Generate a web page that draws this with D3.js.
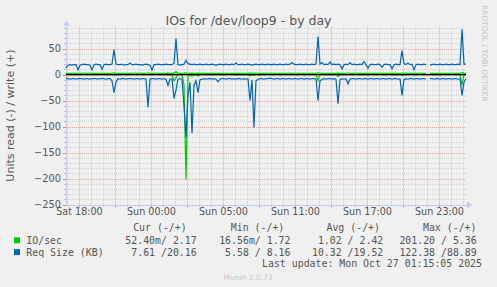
<!DOCTYPE html>
<html><head><meta charset="utf-8">
<script src="https://cdn.jsdelivr.net/npm/d3@7"></script>
<style>
html,body{margin:0;padding:0;background:#f0f0f0;}
svg{display:block;}
text{font-family:"DejaVu Sans",sans-serif;fill:#555;}
.mono{font-family:"DejaVu Sans Mono",monospace;white-space:pre;}
</style></head><body>
<svg id="c" width="497" height="287"></svg>
<script>
// ---------- data ----------
const sampleStartUTC = "2025-10-25T14:55:05Z";
const stepMinutes = 10;
const lastUpdateUTC = "2025-10-27T00:15:05Z";

// Req Size (KB) write (+)
const reqWrite = [13,18,19,18,19,19,9,18,19,20,19,19,18,9,19,20,19,19,10,19,
20,19,19,20,48,20,19,19,20,18,19,19,22,19,19,20,19,19,18,19,
20,19,18,9,19,19,20,19,19,19,20,19,19,19,22,69,19,18,19,20,
27,21,20,19,20,19,19,20,19,19,20,19,19,20,19,18,19,20,19,19,
20,19,19,20,19,22,19,19,20,19,19,20,19,18,19,20,19,19,20,19,
19,20,19,19,20,19,19,20,19,19,20,19,20,23,20,19,19,20,19,19,
20,19,19,20,19,20,73,20,23,19,20,19,24,19,20,19,20,19,11,19,
20,19,23,19,20,19,19,20,19,25,19,12,19,20,19,19,20,19,14,19,
20,19,19,11,19,20,19,19,46,21,19,22,19,20,9,19,20,19,19,20,
19,null,18,19,20,19,19,20,19,19,20,19,19,20,19,19,20,19,87,20,20];
// Req Size (KB) read (-) magnitude
const reqRead = [8,8,9,8,8,9,8,8,8,9,8,8,9,8,8,8,9,8,8,8,
9,8,8,12,35,14,8,9,8,8,9,8,8,8,9,8,8,9,8,8,
9,63,9,8,8,9,8,8,9,8,9,21,9,8,46,30,9,8,9,60,
121,40,15,113,20,12,35,10,9,8,9,8,8,9,8,9,14,9,8,8,
9,8,8,9,8,9,8,8,9,8,9,8,50,10,102,12,9,8,8,9,
8,8,7,8,9,8,8,9,8,8,9,8,8,9,8,8,9,8,8,9,
8,8,9,8,8,9,50,12,9,8,9,8,8,9,8,9,56,10,8,9,
8,18,9,8,8,9,8,8,9,8,8,9,8,8,9,8,8,9,8,8,
9,8,8,9,8,8,9,8,40,10,8,9,8,8,9,8,8,9,8,8,
9,null,8,8,9,8,8,9,8,8,9,8,8,9,8,8,9,8,40,15,8];
// IO/sec write (+)
const ioWrite = [2.2,2.4,2.3,2.4,2.5,2.4,2.2,2.4,2.3,2.4,2.5,2.4,2.3,2.2,2.4,2.5,2.4,2.3,2.2,2.4,
2.5,2.4,2.3,2.4,3.1,2.4,2.3,2.4,2.5,2.4,2.3,2.4,2.5,2.4,2.3,2.4,2.5,2.4,2.3,2.4,
2.5,2.6,2.4,2.2,2.4,2.5,2.4,2.3,2.4,2.5,2.4,2.6,2.4,2.3,3.2,5.36,2.4,2.3,2.4,2.6,
3.0,2.5,2.4,2.7,2.4,2.3,2.6,2.4,2.3,2.4,2.5,2.4,2.3,2.4,2.5,2.4,2.3,2.4,2.5,2.4,
2.3,2.4,2.5,2.4,2.3,2.4,2.5,2.4,2.3,2.4,2.5,2.4,2.8,2.4,2.7,2.4,2.3,2.4,2.5,2.4,
2.3,2.4,2.5,2.4,2.3,2.4,2.5,2.4,2.3,2.4,2.5,2.4,2.3,2.4,2.5,2.4,2.3,2.4,2.5,2.4,
2.3,2.4,2.5,2.4,2.3,2.4,3.4,2.4,2.3,2.4,2.5,2.4,2.3,2.4,2.5,2.4,2.8,2.4,2.3,2.4,
2.5,2.6,2.3,2.4,2.5,2.4,2.3,2.4,2.5,2.4,2.3,2.4,2.5,2.4,2.3,2.4,2.5,2.4,2.3,2.4,
2.5,2.4,2.3,2.4,2.5,2.4,2.3,2.4,2.9,2.4,2.3,2.4,2.5,2.4,2.3,2.4,2.5,2.4,2.3,2.4,
2.5,null,2.3,2.4,2.5,2.4,2.3,2.4,2.5,2.4,2.3,2.4,2.5,2.4,2.3,2.4,2.5,2.4,4.1,2.3,2.17];
// IO/sec read (-) magnitude
const ioRead = [0.05,0.04,0.05,0.06,0.05,0.04,0.05,0.05,0.04,0.05,0.06,0.05,0.04,0.05,0.05,0.04,0.05,0.06,0.05,0.04,
0.05,0.05,0.04,0.3,1.2,0.3,0.05,0.04,0.05,0.06,0.05,0.04,0.05,0.05,0.04,0.05,0.06,0.05,0.04,0.05,
0.05,0.8,0.05,0.04,0.05,0.06,0.05,0.04,0.05,0.05,0.04,0.9,0.05,0.06,12,6,0.05,0.04,0.05,20,
201.2,3,0.5,3.5,0.5,0.3,3,0.2,0.05,0.04,0.05,0.06,0.05,0.04,0.05,0.05,0.4,0.05,0.06,0.05,
0.04,0.05,0.05,0.04,0.05,0.06,0.05,0.04,0.05,0.05,0.04,0.05,3,0.1,2,0.05,0.04,0.05,0.05,0.04,
0.05,0.06,0.05,0.04,0.05,0.05,0.04,0.05,0.06,0.05,0.04,0.05,0.05,0.04,0.05,0.06,0.05,0.04,0.05,0.05,
0.04,0.05,0.06,0.05,0.04,0.05,12,0.2,0.05,0.04,0.05,0.06,0.05,0.04,0.05,0.05,4,0.1,0.05,0.04,
0.05,0.3,0.05,0.04,0.05,0.06,0.05,0.04,0.05,0.05,0.04,0.05,0.06,0.05,0.04,0.05,0.05,0.04,0.05,0.06,
0.05,0.04,0.05,0.05,0.04,0.05,0.06,0.05,1.5,0.1,0.05,0.04,0.05,0.05,0.04,0.05,0.06,0.05,0.04,0.05,
0.05,null,0.05,0.04,0.05,0.06,0.05,0.04,0.05,0.05,0.04,0.05,0.06,0.05,0.04,0.05,0.05,0.04,20,0.5,0.0524];

const yTicks = [50,0,-50,-100,-150,-200,-250];
const xTickTimesUTC = ["2025-10-25T16:00:00Z","2025-10-25T22:00:00Z","2025-10-26T04:00:00Z","2025-10-26T10:00:00Z","2025-10-26T16:00:00Z","2025-10-26T22:00:00Z"];
const xTickLabels = ["Sat 18:00","Sun 00:00","Sun 05:00","Sun 11:00","Sun 17:00","Sun 23:00"];

const title = "IOs for /dev/loop9 - by day";
const yLabel = "Units read (-) / write (+)";
const legendHeader = ["Cur (-/+)","Min (-/+)","Avg (-/+)","Max (-/+)"];
const seriesNames = ["IO/sec","Req Size (KB)"];
const seriesColors = ["#00cc00","#0066b3"];
const legendRows = [
  ["52.40m/ 2.17","16.56m/ 1.72"," 1.02 / 2.42","201.20 / 5.36"],
  [" 7.61 /20.16"," 5.58 / 8.16","10.32 /19.52","122.38 /88.89"]
];
const lastUpdateText = "Last update: Mon Oct 27 01:15:05 2025";
const credit = "Munin 2.0.73";
const rrdCredit = "RRDTOOL / TOBI OETIKER";

// ---------- drawing ----------
const svg = d3.select("#c");
const L = 66, R = 466, T = 26.7, B = 204.5;
const t0 = new Date(sampleStartUTC).getTime();
const tEnd = t0 + (reqWrite.length - 1) * stepMinutes * 60000;
const x = d3.scaleUtc().domain([t0, tEnd]).range([L, R]);
const y = d3.scaleLinear().domain([-250, 92]).range([B, T]);

const timeAt = i => new Date(t0 + i * stepMinutes * 60000);

// minor grid
const g = svg.append("g");
const hours = d3.utcHour.range(new Date(t0), new Date(tEnd));
hours.forEach(h => {
  const major = h.getUTCHours() % 3 === 1;
  const xx = Math.round(x(h)) + 0.5;
  g.append("line").attr("x1", xx).attr("x2", xx).attr("y1", T).attr("y2", B)
    .attr("stroke", major ? "#eaa6a6" : "#d2d2d2").attr("stroke-dasharray", "1,1");
  g.append("line").attr("x1", xx).attr("x2", xx).attr("y1", B).attr("y2", B + (major ? 3 : 2))
    .attr("stroke", major ? "#e87a7a" : "#bbbbbb");
});
d3.range(-250, 92, 10).forEach(v => {
  const major = v % 50 === 0;
  const yy = Math.round(y(v)) + 0.5;
  g.append("line").attr("x1", L).attr("x2", R).attr("y1", yy).attr("y2", yy)
    .attr("stroke", major ? "#eaa6a6" : "#d2d2d2").attr("stroke-dasharray", "1,1");
  g.append("line").attr("x1", L - (major ? 3 : 2)).attr("x2", L).attr("y1", yy).attr("y2", yy)
    .attr("stroke", major ? "#e87a7a" : "#bbbbbb");
});

// axes lines + arrows
const axc = "#c4cbf2";
svg.append("line").attr("x1", L + 0.5).attr("x2", L + 0.5).attr("y1", B).attr("y2", T - 2).attr("stroke", axc);
svg.append("line").attr("x1", L).attr("x2", R + 2).attr("y1", Math.round(B) + 0.5).attr("y2", Math.round(B) + 0.5).attr("stroke", axc);
svg.append("path").attr("d", `M${L - 3},${T - 1}L${L + 4},${T - 1}L${L + 0.5},${T - 6}Z`).attr("fill", axc);
svg.append("path").attr("d", `M${R + 1},${B - 3}L${R + 1},${B + 4}L${R + 6},${B + 0.5}Z`).attr("fill", axc);

// series lines
const line = d3.line().defined(d => d.v != null).x(d => x(d.t)).y(d => y(d.v));
function mk(arr, sign) { return arr.map((v, i) => ({ t: timeAt(i), v: v == null ? null : sign * v })); }
const lg = svg.append("g").attr("fill", "none").attr("stroke-width", 1.2);
lg.append("path").attr("d", line(mk(ioRead, -1))).attr("stroke", seriesColors[0]);
lg.append("path").attr("d", line(mk(ioWrite, 1))).attr("stroke", seriesColors[0]);
svg.append("line").attr("x1", L).attr("x2", R).attr("y1", y(0)).attr("y2", y(0)).attr("stroke", "#000").attr("stroke-width", 1.3);
lg.append("path").attr("d", line(mk(reqRead, -1))).attr("stroke", seriesColors[1]);
lg.append("path").attr("d", line(mk(reqWrite, 1))).attr("stroke", seriesColors[1]);

// axis labels
const xAxis = d3.axisBottom(x).tickValues(xTickTimesUTC.map(s => new Date(s)))
  .tickFormat((d, i) => xTickLabels[i]).tickSize(0).tickPadding(0);
const xa = svg.append("g").attr("transform", `translate(0,${B + 4})`).call(xAxis);
xa.select(".domain").remove();
xa.selectAll("text").attr("font-size", "9.6px").attr("font-family", "DejaVu Sans").attr("fill", "#555").attr("dy", "0.71em");

const yAxis = d3.axisLeft(y).tickValues(yTicks).tickSize(0).tickPadding(0);
const ya = svg.append("g").attr("transform", `translate(${L - 5},0)`).call(yAxis);
ya.select(".domain").remove();
ya.selectAll("text").attr("font-size", "9.8px").attr("font-family", "DejaVu Sans").attr("fill", "#555");

// title & labels
svg.append("text").attr("x", 248.5).attr("y", 24.5).attr("text-anchor", "middle")
  .attr("font-size", "12.5px").text(title);
svg.append("text").attr("transform", `translate(14,${(T + B) / 2}) rotate(-90)`).attr("text-anchor", "middle")
  .attr("font-size", "11px").text(yLabel);
svg.append("text").attr("transform", `translate(482,5) rotate(90)`).attr("text-anchor", "start")
  .attr("font-size", "7.5px").style("fill", "#c4c4c4").text(rrdCredit);

// legend
const colEnds = [186.7, 284.3, 380, 476.5];
const valEnds = [196.7, 290.5, 383.3, 476.7];
const fs = "9.9px";
legendHeader.forEach((h, i) => svg.append("text").attr("class", "mono").attr("x", colEnds[i]).attr("y", 231)
  .attr("text-anchor", "end").attr("font-size", fs).text(h));
seriesNames.forEach((n, r) => {
  const yy = 243.8 + r * 11.8;
  svg.append("rect").attr("x", 14).attr("y", yy - 6.5).attr("width", 6).attr("height", 6).attr("fill", seriesColors[r]);
  svg.append("text").attr("class", "mono").attr("x", 26.3).attr("y", yy).attr("font-size", fs).text(n);
  legendRows[r].forEach((v, c) => svg.append("text").attr("class", "mono").attr("x", valEnds[c]).attr("y", yy)
    .attr("text-anchor", "end").attr("font-size", fs).text(v));
});
svg.append("text").attr("class", "mono").attr("x", 482).attr("y", 267).attr("text-anchor", "end")
  .attr("font-size", fs).text(lastUpdateText);
svg.append("text").attr("x", 248).attr("y", 279.5).attr("text-anchor", "middle")
  .attr("font-size", "7.5px").style("fill", "#c8c8c8").text(credit);
</script>
</body></html>
